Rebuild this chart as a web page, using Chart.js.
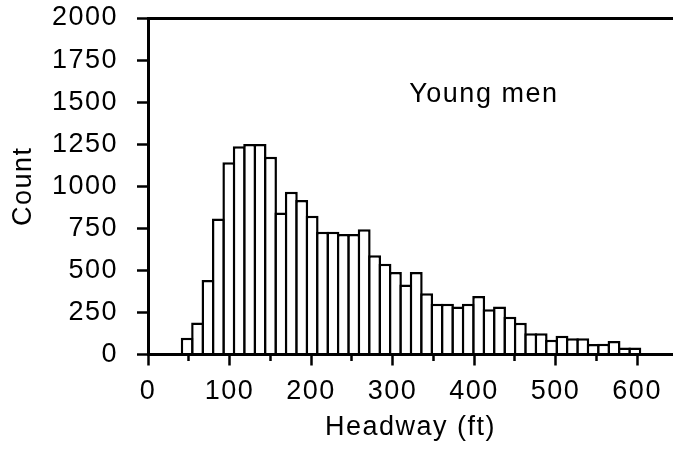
<!DOCTYPE html>
<html>
<head>
<meta charset="utf-8">
<script src="https://cdn.jsdelivr.net/npm/chart.js@4.4.1/dist/chart.umd.min.js"></script>
<style>
  html, body { margin: 0; padding: 0; background: #fff; }
  #wrap { width: 673px; height: 452px; }
</style>
</head>
<body>
<div id="wrap"><canvas id="hist" width="673" height="452"></canvas></div>
<script>
// bin centres (ft) and counts
var binCenters = [48.09, 60.86, 73.63, 86.40, 99.17, 111.94, 124.71, 137.48, 150.25, 163.02,
    175.79, 188.56, 201.33, 214.10, 226.87, 239.64, 252.41, 265.18, 277.95, 290.72,
    303.49, 316.26, 329.03, 341.80, 354.57, 367.34, 380.11, 392.88, 405.65, 418.42,
    431.19, 443.96, 456.73, 469.50, 482.27, 495.04, 507.81, 520.58, 533.35, 546.12,
    558.89, 571.66, 584.43, 597.20];
var counts = [100, 190, 443, 808, 1142, 1237, 1251, 1251, 1176, 844,
    967, 918, 824, 729, 729, 716, 716, 745, 590, 540,
    491, 416, 491, 364, 302, 302, 285, 302, 348, 269,
    285, 224, 189, 126, 126, 88, 112, 96, 96, 63,
    64, 80, 42, 42];
var yTicks = [0, 250, 500, 750, 1000, 1250, 1500, 1750, 2000];
var xTicks = [0, 100, 200, 300, 400, 500, 600];
var groupLabel = 'Young men';
var xTitle = 'Headway (ft)';
var yTitle = 'Count';

var FONT = '"Liberation Sans", Arial, sans-serif';
Chart.defaults.font.family = FONT;
Chart.defaults.font.size = 27;
Chart.defaults.color = '#000';

// the original type is a little wider than Arial, loosen it a bit
var spacingPlugin = {
    id: 'spacing',
    beforeLayout: function (chart) { chart.ctx.letterSpacing = '1.5px'; },
    beforeDraw: function (chart) { chart.ctx.letterSpacing = '1.5px'; }
};

// text inside the plot
var groupLabelPlugin = {
    id: 'groupLabel',
    afterDatasetsDraw: function (chart) {
        var ctx = chart.ctx;
        ctx.save();
        ctx.font = '27px ' + FONT;
        ctx.fillStyle = '#000';
        ctx.textAlign = 'center';
        ctx.textBaseline = 'alphabetic';
        ctx.fillText(groupLabel, chart.scales.x.getPixelForValue(412), chart.scales.y.getPixelForValue(1500));
        ctx.restore();
    }
};

var points = binCenters.map(function (c, i) { return {x: c, y: counts[i]}; });

new Chart(document.getElementById('hist'), {
    type: 'bar',
    data: {
        datasets: [{
            data: points,
            backgroundColor: '#fff',
            borderColor: '#000',
            borderWidth: 2.5,
            barPercentage: 1.24,
            categoryPercentage: 1
        }]
    },
    options: {
        responsive: false,
        animation: false,
        events: [],
        layout: { padding: { top: 18, right: 0, bottom: 0, left: 0 } },
        plugins: { legend: { display: false }, tooltip: { enabled: false } },
        scales: {
            x: {
                type: 'linear',
                offset: false,
                min: 0,
                max: 644,
                afterFit: function (scale) {
                    scale.height = 97.5;
                    scale.paddingLeft = 0;
                    scale.paddingRight = 0;
                },
                border: { display: true, color: '#000', width: 3, z: 1 },
                grid: {
                    offset: false,
                    drawOnChartArea: false,
                    drawTicks: true,
                    tickLength: 11,
                    tickColor: '#000',
                    tickWidth: 2.5,
                    tickBorderDash: function (ctx) {
                        return ctx.tick && xTicks.indexOf(ctx.tick.value) < 0 ? [5, 50] : [];
                    }
                },
                ticks: {
                    stepSize: 50,
                    includeBounds: false,
                    autoSkip: false,
                    maxRotation: 0,
                    padding: 10,
                    callback: function (v) { return xTicks.indexOf(v) >= 0 ? v : ''; }
                },
                title: { display: true, text: xTitle, padding: { top: 0, bottom: 8 } }
            },
            y: {
                min: 0,
                max: 2000,
                afterFit: function (scale) {
                    scale.width = 148;
                    scale.paddingTop = 0;
                    scale.paddingBottom = 0;
                },
                border: { display: true, color: '#000', width: 3 },
                grid: {
                    drawOnChartArea: true,
                    color: function (ctx) { return ctx.tick && ctx.tick.value === 2000 ? '#000' : 'rgba(0,0,0,0)'; },
                    lineWidth: 3,
                    tickLength: 11,
                    tickColor: '#000',
                    tickWidth: 2.5
                },
                ticks: {
                    stepSize: 250,
                    padding: 19,
                    callback: function (v) { return yTicks.indexOf(v) >= 0 ? v : ''; }
                },
                title: { display: true, text: yTitle, padding: { top: 7, bottom: 0 } }
            }
        }
    },
    plugins: [spacingPlugin, groupLabelPlugin]
});
</script>
</body>
</html>
